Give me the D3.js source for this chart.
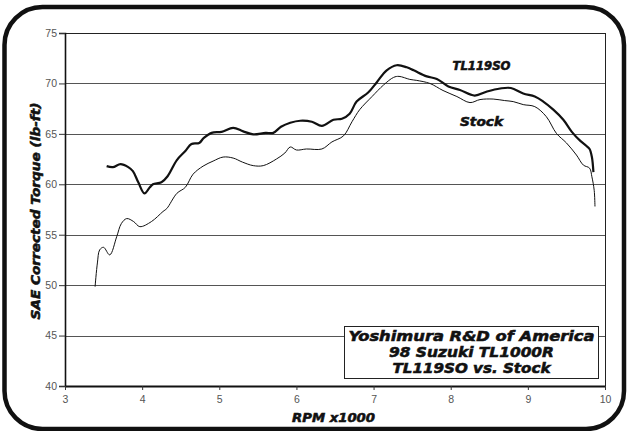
<!DOCTYPE html>
<html><head><meta charset="utf-8">
<script src="https://cdn.jsdelivr.net/npm/d3@7"></script>
<style>html,body{margin:0;padding:0;background:#fff;}svg{display:block;}</style>
</head><body>
<svg id="c" width="627" height="431"></svg>
<script>
const tlRpm = [3.54,3.62,3.72,3.82,3.88,3.95,4.03,4.10,4.14,4.25,4.33,4.45,4.56,4.64,4.74,4.80,4.90,5.03,5.18,5.31,5.44,5.60,5.70,5.80,5.92,6.05,6.20,6.33,6.48,6.59,6.69,6.78,6.93,7.04,7.17,7.30,7.43,7.52,7.69,7.82,7.97,8.12,8.31,8.47,8.64,8.78,8.94,9.09,9.20,9.33,9.46,9.57,9.68,9.76,9.80,9.83,9.85];
const tlTorque = [61.8,61.7,62.0,61.7,61.3,60.2,59.1,59.7,60.0,60.2,60.8,62.4,63.3,64.0,64.1,64.6,65.1,65.2,65.6,65.25,64.95,65.1,65.1,65.7,66.1,66.3,66.2,65.8,66.4,66.5,67.0,68.2,69.1,70.1,71.3,71.8,71.6,71.3,70.7,70.45,69.7,69.35,68.8,69.2,69.5,69.55,69.0,68.7,68.2,67.4,66.4,65.2,64.3,63.8,63.5,62.7,61.2];
const stockRpm = [3.39,3.42,3.45,3.50,3.58,3.67,3.73,3.80,3.89,3.97,4.12,4.27,4.32,4.45,4.56,4.66,4.79,4.92,5.05,5.18,5.30,5.44,5.57,5.74,5.85,5.92,6.00,6.13,6.33,6.46,6.61,6.72,6.82,6.98,7.13,7.26,7.33,7.47,7.56,7.73,7.90,8.08,8.25,8.38,8.55,8.70,8.81,8.94,9.09,9.24,9.37,9.50,9.63,9.72,9.80,9.83,9.86,9.87];
const stockTorque = [49.85,52.2,53.5,53.75,53.0,54.8,56.1,56.6,56.3,55.8,56.3,57.3,57.6,59.1,59.7,61.0,61.8,62.3,62.7,62.6,62.2,61.85,61.85,62.5,63.1,63.7,63.4,63.5,63.5,64.2,64.8,66.2,67.4,68.7,69.85,70.6,70.7,70.4,70.3,70.0,69.3,68.7,68.1,68.4,68.45,68.3,68.2,67.9,67.7,66.7,65.05,64.1,62.9,61.9,61.6,60.75,59.4,57.8];
const xTicks = [3,4,5,6,7,8,9,10];
const yTicks = [40,45,50,55,60,65,70,75];
const seriesNames = ["TL119SO","Stock"];
const titleLines = ["Yoshimura R&D of America","98 Suzuki TL1000R","TL119SO vs. Stock"];
const xLabel = "RPM x1000";
const yLabel = "SAE Corrected Torque (lb-ft)";

const svg = d3.select("#c");
const L = 65, R = 605, T = 33, B = 386;
const x = d3.scaleLinear().domain([3,10]).range([L,R]);
const y = d3.scaleLinear().domain([40,75]).range([B,T]);
const bold = "'DejaVu Sans', sans-serif";
function heavy(sel){
  return sel.attr("font-family",bold).attr("font-weight","bold").attr("font-style","italic")
    .attr("fill","#111").attr("stroke","#111").attr("stroke-width",0.55).attr("lengthAdjust","spacingAndGlyphs");
}

// outer frame
svg.append("rect").attr("x",4.5).attr("y",7).attr("width",619.5).attr("height",422)
  .attr("rx",38).attr("ry",38).attr("fill","none").attr("stroke","#111").attr("stroke-width",4.5);

// gridlines
svg.append("g").selectAll("line").data(yTicks.filter(d=>d>40&&d<75)).join("line")
  .attr("x1",L).attr("x2",R).attr("y1",d=>Math.round(y(d))+0.5).attr("y2",d=>Math.round(y(d))+0.5)
  .attr("stroke","#555").attr("stroke-width",1);
// top & right border
svg.append("line").attr("x1",L).attr("x2",R+0.5).attr("y1",T+0.5).attr("y2",T+0.5).attr("stroke","#222");
svg.append("line").attr("x1",R+0.5).attr("x2",R+0.5).attr("y1",T).attr("y2",B).attr("stroke","#222");

// axes
const yAxis = d3.axisLeft(y).tickValues(yTicks).tickFormat(d3.format("d")).tickSize(6).tickPadding(2);
const gy = svg.append("g").attr("transform",`translate(${L},0)`).call(yAxis);
gy.select(".domain").attr("stroke","#111").attr("stroke-width",1.6);
gy.selectAll(".tick line").attr("stroke","#333");
gy.selectAll("text").attr("fill","#555").attr("font-family","'Liberation Sans', Arial, sans-serif").attr("font-size",10.5);

const xAxis = d3.axisBottom(x).tickValues(xTicks).tickFormat(d3.format("d")).tickSize(4).tickPadding(6).tickSizeOuter(0);
const gx = svg.append("g").attr("transform",`translate(0,${B})`).call(xAxis);
gx.select(".domain").attr("stroke","#111").attr("stroke-width",2.2);
gx.selectAll(".tick line").attr("stroke","#333");
gx.selectAll("text").attr("fill","#555").attr("font-family","'Liberation Sans', Arial, sans-serif").attr("font-size",10.5);

// lines
const line = d3.line().x(d=>x(d[0])).y(d=>y(d[1])).curve(d3.curveCatmullRom.alpha(0.5));
svg.append("path").datum(d3.zip(stockRpm,stockTorque)).attr("d",line)
  .attr("fill","none").attr("stroke","#111").attr("stroke-width",1);
svg.append("path").datum(d3.zip(tlRpm,tlTorque)).attr("d",line)
  .attr("fill","none").attr("stroke","#111").attr("stroke-width",2.2);

// series labels
heavy(svg.append("text")).attr("x",481.5).attr("y",69.5).attr("text-anchor","middle")
  .attr("font-size",11.5).attr("textLength",58).text(seriesNames[0]);
heavy(svg.append("text")).attr("x",481.5).attr("y",126).attr("text-anchor","middle")
  .attr("font-size",12).attr("textLength",43).text(seriesNames[1]);

// title box
svg.append("rect").attr("x",344.5).attr("y",326.5).attr("width",254).attr("height",52)
  .attr("fill","#fff").attr("stroke","#222").attr("stroke-width",1);
const tLens = [246,165,158];
titleLines.forEach((t,i)=>{
  heavy(svg.append("text")).attr("x",471.5).attr("y",341+i*16).attr("text-anchor","middle")
    .attr("font-size",14).attr("textLength",tLens[i]).text(t);
});

// axis labels
heavy(svg.append("text")).attr("x",333.5).attr("y",422).attr("text-anchor","middle")
  .attr("font-size",12).attr("textLength",83).text(xLabel);
heavy(svg.append("text")).attr("transform","translate(40,211) rotate(-90)").attr("text-anchor","middle")
  .attr("font-size",12).attr("textLength",217).text(yLabel);
</script>
</body></html>
